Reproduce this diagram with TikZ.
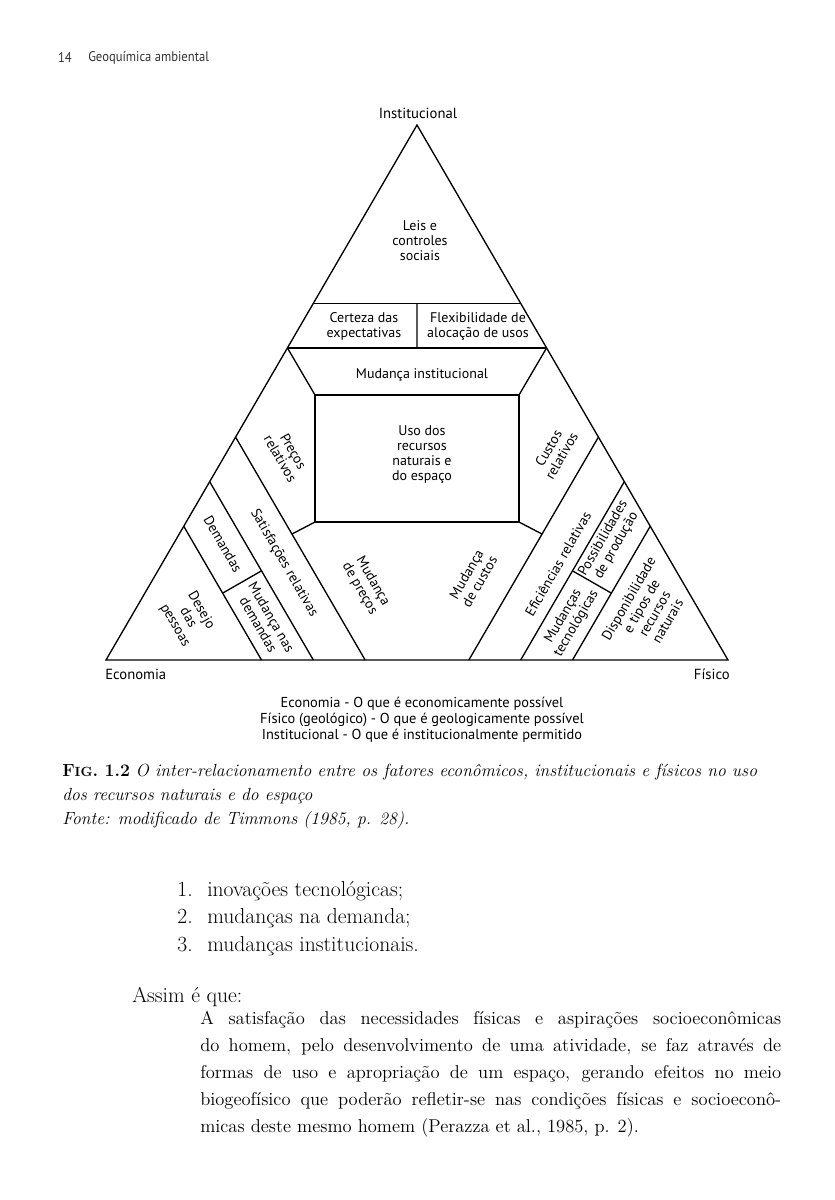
\documentclass[tikz,border=0pt]{standalone}
\usepackage{fontspec}
\newfontfamily\diagfont{PT Sans}
\newfontfamily\headfont[FakeStretch=0.9]{PT Sans}
\usetikzlibrary{calc,positioning}

\tikzset{
  part/.style={line width=1pt, line join=miter},
  lbl/.style={font=\diagfont\fontsize{10.5}{11.25}\selectfont, align=center, inner sep=0pt},
  llbl/.style={lbl, rotate=-60},
  rlbl/.style={lbl, rotate=60},
  legend/.style={font=\diagfont\fontsize{10.8}{12}\selectfont, align=center, inner sep=0pt},
  body/.style={font=\fontsize{16.2}{20.6}\selectfont, inner sep=0pt},
  quotetext/.style={font=\fontsize{13.9}{20.25}\selectfont, inner sep=0pt},
}

\begin{document}
\begin{tikzpicture}[x=0.75pt, y=-0.75pt]
\fill[white] (0,0) rectangle (835,1200);
\useasboundingbox (0,0) rectangle (835,1200);

% page head
\node[font=\headfont\fontsize{10.5}{12}\selectfont, text=black!80, anchor=east, inner sep=0pt] (pg) at (72,58) {14};
\node[font=\headfont\fontsize{10.5}{12}\selectfont, text=black!80, anchor=west, inner sep=0pt] (head) at (88,58) {Geoquímica ambiental};

% corners of the triangle
\coordinate (E) at (106,660);
\coordinate (F) at (728,660);
\coordinate (I) at (417,125);
\draw[part] (E) -- (F) -- (I) -- cycle;

% points on the sides
\foreach \k in {3,4,5,7,8} {
  \coordinate (l\k) at ($(E)!\k/12!(I)$);
  \coordinate (r\k) at ($(F)!\k/12!(I)$);
  \coordinate (bl\k) at ($(E)!\k/12!(F)$);
  \coordinate (br\k) at ($(F)!\k/12!(E)$);
}

% institutional bands
\draw[part] (l8) -- (r8);
\draw[part] (l7) -- (r7);
\draw[part] ($(l8)!0.5!(r8)$) -- ($(l7)!0.5!(r7)$);

% central box
\coordinate (ul) at (315,395);
\coordinate (ur) at (519,395);
\coordinate (dl) at (315,522);
\coordinate (dr) at (519,522);
\draw[part] (ul) rectangle (dr);
\draw[part] (l7) -- (ul);
\draw[part] (r7) -- (ur);

% strips on both sides
\foreach \k in {3,4,5} {
  \draw[part] (l\k) -- (bl\k);
  \draw[part] (r\k) -- (br\k);
}
\draw[part] (dl) -- ($(l5)!0.435!(bl5)$);
\draw[part] (dr) -- ($(r5)!0.435!(br5)$);
\draw[part] ($(l3)!0.5!(bl3)$) -- ($(l4)!0.5!(bl4)$);
\draw[part] ($(r3)!0.5!(br3)$) -- ($(r4)!0.5!(br4)$);
\draw[part] ($(E)!0.5!(F)$ |- dl) -- ($(E)!0.5!(F)$);

% corner names
\node[lbl, font=\diagfont\fontsize{11}{12}\selectfont] (inst) at (418,113) {Institucional};
\node[lbl, font=\diagfont\fontsize{11}{12}\selectfont, anchor=west] (econ) at (105,674) {Economia};
\node[lbl, font=\diagfont\fontsize{11}{12}\selectfont, anchor=east] (fis) at (730,674) {Físico};

% texts in the parts
\node[lbl] (leis) at (420,241) {Leis e\\controles\\sociais};
\node[lbl] (cert) at (364,326) {Certeza das\\expectativas};
\node[lbl] (flex) at (478,326) {Flexibilidade de\\alocação de usos};
\node[lbl] (mudinst) at (422,375) {Mudança institucional};
\node[lbl] (uso) at (422,455) {Uso dos\\recursos\\naturais e\\do espaço};

\node[llbl] (precos) at (287,455) {Preços\\relativos};
\node[llbl] (satisf) at (284,563) {Satisfações relativas};
\node[llbl] (dem) at (223,544) {Demandas};
\node[llbl] (desejo) at (188,618) {Desejo\\das\\pessoas};
\node[llbl] (mudnas) at (265,621) {Mudança nas\\demandas};
\node[llbl] (mudprec) at (366,585) {Mudança\\de preços};

\node[rlbl] (custos) at (555,452) {Custos\\relativos};
\node[rlbl] (efic) at (558,564) {Eficiências relativas};
\node[rlbl] (possib) at (610,542) {Possibilidades\\de produção};
\node[rlbl] (mudtec) at (570,620) {Mudanças\\tecnológicas};
\node[rlbl] (dispon) at (648,610) {Disponibilidade\\e tipos de\\recursos\\naturais};
\node[rlbl] (mudcust) at (473,578) {Mudança\\de custos};

% legend
\node[legend] (leg) at (422,720) {Economia - O que é economicamente possível\\
  Físico (geológico) - O que é geologicamente possível\\
  Institucional - O que é institucionalmente permitido};

% caption
\node[anchor=north west, inner sep=0pt, align=left,
  font=\fontsize{13.2}{18}\selectfont] (cap) at (62,764)
  {\textbf{F{\fontsize{10}{10}\selectfont IG}. 1.2} \textit{O inter-relacionamento entre os fatores econômicos, institucionais e físicos no uso}\\
   \textit{dos recursos naturais e do espaço}\\
   \textit{Fonte: modificado de Timmons (1985, p. 28).}};

% list
\foreach \n/\t [count=\i] in {1/inovações tecnológicas;, 2/mudanças na demanda;, 3/mudanças institucionais.} {
  \node[body, anchor=base east] (num\i) at (193,{896+27.5*(\i-1)}) {\n.};
  \node[body, anchor=base west] (item\i) at (207,{896+27.5*(\i-1)}) {\t};
}

\node[body, anchor=base west] (assim) at (132,1002) {Assim é que:};
\node[quotetext, anchor=north west, text width=435.75pt, align=justify] (quote) at (200,1011)
  {A satisfação das necessidades físicas e aspirações socioeconômicas\linebreak
   do homem, pelo desenvolvimento de uma atividade, se faz através de\linebreak
   formas de uso e apropriação de um espaço, gerando efeitos no meio\linebreak
   biogeofísico que poderão refletir-se nas condições físicas e socioeconô-\linebreak
   micas deste mesmo homem (Perazza et al., 1985, p. 2).};
\end{tikzpicture}
\end{document}
